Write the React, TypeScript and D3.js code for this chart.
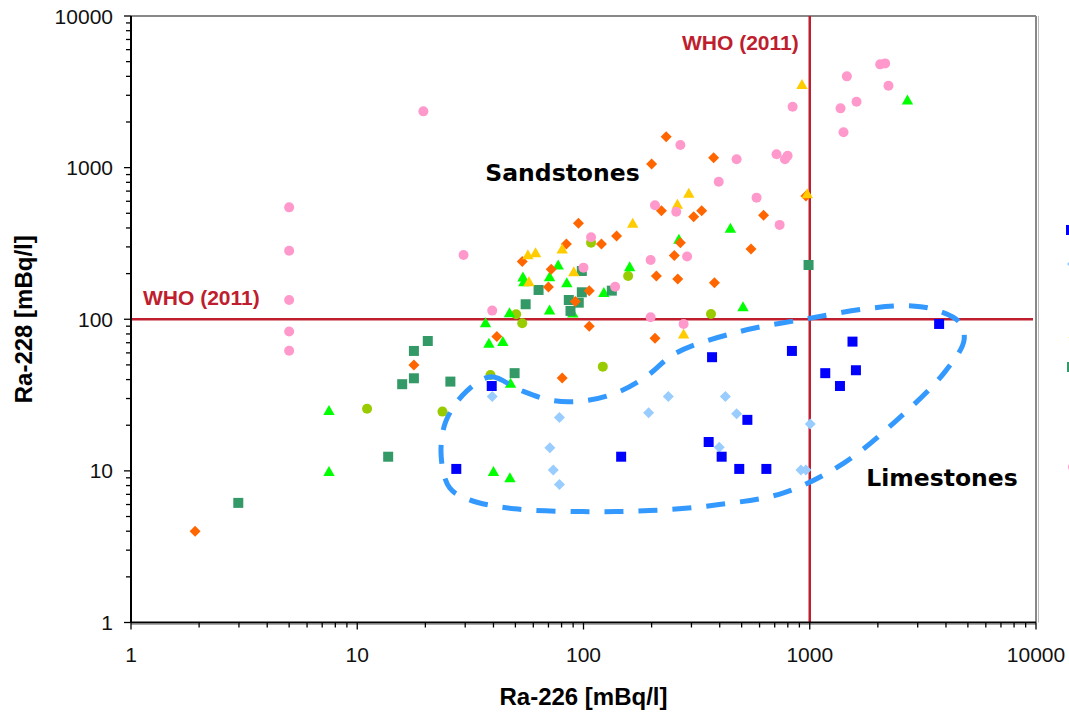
import React from 'react';
import * as d3 from 'd3';

const W = 1069;
const H = 712;
const margin = { top: 16, right: 33, bottom: 89.5, left: 131 };

// [Ra-226, Ra-228] in mBq/l, one array per marker series
const pinkCircles = [
  [5, 547], [5, 283], [5, 134], [5, 83], [5, 62], [19.6, 2350], [29.5, 265], [39.5, 114],
  [108, 347], [100, 219], [138, 164], [198, 246], [198, 103], [207, 564], [257, 512],
  [268, 1409], [287, 259], [277, 93], [396, 807], [475, 1135], [582, 634], [713, 1224],
  [777, 1135], [798, 1198], [736, 419], [840, 2520], [1459, 3999], [2048, 4798],
  [2154, 4870], [2228, 3467], [1610, 2718], [1368, 2460], [1410, 1709],
];
const orangeDiamonds = [
  [1.92, 4.0], [232, 1599], [200, 1057], [376, 1162], [221, 520], [307, 474], [333, 520],
  [95, 430], [140, 354], [84, 314], [120, 314], [53.6, 240], [72, 214], [70, 163],
  [106, 154], [92, 131], [106, 90], [41.4, 77], [17.8, 50], [80.5, 41], [252, 263],
  [210, 193], [261, 184], [207, 75], [268, 320], [379, 174], [625, 485], [550, 291],
  [962, 650],
];
const yellowTriangles = [
  [924, 3540], [975, 672], [292, 677], [260, 573], [165, 430], [56.8, 266], [61.4, 275],
  [80.5, 291], [57.4, 177], [90.6, 206], [277, 80],
];
const greenTriangles = [
  [7.5, 25], [7.5, 9.9], [40, 9.9], [47.3, 9.0], [47.6, 37.9], [36.9, 95], [38.2, 69.5],
  [44, 71.2], [47.1, 110.5], [54.5, 177], [54, 190], [70.8, 191], [77.3, 228], [84.4, 174],
  [70.8, 115], [89.7, 110], [123, 150], [160, 222], [264, 337], [446, 398], [507, 121],
  [2703, 2790],
];
const tealSquares = [
  [2.98, 6.15], [13.7, 12.4], [17.8, 61.8], [20.5, 71.9], [17.8, 40.8], [15.8, 37.3],
  [25.8, 38.8], [49.6, 44.1], [55.5, 125.6], [63.3, 156], [86.1, 134], [95.3, 128.6],
  [87.6, 113.5], [98.3, 150.6], [98.3, 208], [133.4, 154.4], [988, 228],
];
const oliveCircles = [
  [108, 320], [50.4, 108], [53.6, 94], [157.5, 193], [366, 108.4], [121.7, 48.7],
  [38.8, 42.9], [11.05, 25.7], [23.8, 24.6],
];
const blueSquares = [
  [39.3, 36.3], [27.4, 10.3], [146.7, 12.4], [370, 56.2], [357.5, 15.5], [408, 12.4],
  [488, 10.3], [643, 10.3], [530, 21.7], [834, 61.8], [1545, 71.2], [1171, 44.1],
  [1600, 46.1], [1360, 36.3], [3731, 93.1],
];
const lightBlueDiamonds = [
  [39.5, 30.9], [78.3, 22.5], [71, 14.2], [73.5, 10.15], [78.3, 8.12], [194, 24.2],
  [237, 30.9], [398, 14.3], [423.6, 30.9], [475, 23.8], [1005, 20.4], [914, 10.15],
  [962, 10.15],
];

// hand-drawn "Limestones" outline, in data units
const limestoneOutline = [
  [30.3, 33.3], [39.1, 41.8], [52.2, 34.2], [73, 29.1], [103, 29.1], [144, 33.3],
  [189, 41.8], [257, 60], [488, 82.8], [962, 100.5], [1888, 118.7], [2835, 122.4],
  [3607, 115.2], [4571, 96], [4810, 73], [3925, 44.3], [2434, 21.7], [1420, 11.3],
  [772, 7.19], [390, 5.97], [195.6, 5.47], [99, 5.39], [49.6, 5.62], [31.4, 6.44],
  [25.6, 7.73], [23.5, 12.4], [24.6, 21.1],
];

const tickLabels = ['1', '10', '100', '1000', '10000'];
const whoRa226 = 1000;
const whoRa228 = 100;

const series = [
  { data: oliveCircles, shape: 'circle', color: '#99CC00' },
  { data: greenTriangles, shape: 'triangle', color: '#00FF00' },
  { data: tealSquares, shape: 'square', color: '#339966' },
  { data: orangeDiamonds, shape: 'diamond', color: '#FF6600' },
  { data: yellowTriangles, shape: 'triangle', color: '#FFCC00' },
  { data: pinkCircles, shape: 'circle', color: '#FF99CC' },
  { data: lightBlueDiamonds, shape: 'diamond', color: '#99CCFF' },
  { data: blueSquares, shape: 'square', color: '#0000FF' },
];

const shapePath = (shape) => {
  if (shape === 'square') return 'M-5,-5H5V5H-5Z';
  if (shape === 'diamond') return 'M0,-5.5L5.5,0L0,5.5L-5.5,0Z';
  if (shape === 'triangle') return 'M0,-5.5L5.7,4.5H-5.7Z';
  return d3.symbol(d3.symbolCircle, Math.PI * 25)();
};

const arial = '"Liberation Sans", Arial, sans-serif';
const verdana = '"DejaVu Sans", Verdana, sans-serif';
const red = '#BE1E2D';

export default function App() {
  const x = d3.scaleLog().domain([1, 10000]).range([margin.left, W - margin.right]);
  const y = d3.scaleLog().domain([1, 10000]).range([H - margin.bottom, margin.top]);
  const x0 = margin.left, x1 = W - margin.right;
  const y0 = H - margin.bottom, y1 = margin.top;

  const ticks = x.ticks();
  const isMajor = (v) => Math.abs(Math.log10(v) - Math.round(Math.log10(v))) < 1e-9;

  const outline = d3.line()
    .x(d => x(d[0]))
    .y(d => y(d[1]))
    .curve(d3.curveCatmullRomClosed.alpha(0.5))(limestoneOutline);

  return (
    <svg width={W} height={H} style={{ position: 'absolute', left: 0, top: 0, background: '#fff' }}>
      {/* plot border */}
      <line x1={x0} x2={x1} y1={y1} y2={y1} stroke="#888" strokeWidth={2} />
      <line x1={x1} x2={x1} y1={y1} y2={y0} stroke="#888" strokeWidth={2} />
      <line x1={x1 + 2.5} x2={x1 + 2.5} y1={y1} y2={y0} stroke="#bbb" strokeWidth={1} />
      <line x1={x0} x2={x1} y1={y0 + 2} y2={y0 + 2} stroke="#aaa" strokeWidth={1} />

      {/* WHO lines */}
      <line x1={x0} x2={x1 - 3} y1={y(whoRa228)} y2={y(whoRa228)} stroke={red} strokeWidth={2.5} />
      <line x1={x(whoRa226)} x2={x(whoRa226)} y1={y1} y2={y0} stroke={red} strokeWidth={2.5} />

      {/* markers */}
      {series.map((s, i) => (
        <g key={i} fill={s.color}>
          {s.data.map((d, j) => (
            <path key={j} d={shapePath(s.shape)} transform={`translate(${x(d[0])},${y(d[1])})`} />
          ))}
        </g>
      ))}

      <path d={outline} fill="none" stroke="#3399FF" strokeWidth={5} strokeDasharray="19 15" />

      {/* axes */}
      <line x1={x0} x2={x0} y1={y1} y2={y0} stroke="#000" strokeWidth={2} />
      <line x1={x0} x2={x1} y1={y0} y2={y0} stroke="#000" strokeWidth={2} />
      {ticks.map((t, i) => (
        <g key={i}>
          <line x1={x0 - (isMajor(t) ? 7 : 5)} x2={x0} y1={y(t)} y2={y(t)} stroke="#000" strokeWidth={1.3} />
          <line x1={x(t)} x2={x(t)} y1={y0} y2={y0 + (isMajor(t) ? 7 : 5)} stroke="#000" strokeWidth={1.3} />
        </g>
      ))}
      {tickLabels.map((lab) => (
        <g key={lab} fontFamily={arial} fontSize={21} fill="#111">
          <text x={x0 - 18} y={y(+lab)} dy="0.36em" textAnchor="end">{lab}</text>
          <text x={x(+lab)} y={662} textAnchor="middle">{lab}</text>
        </g>
      ))}

      <text x={(x0 + x1) / 2} y={705} textAnchor="middle" fontFamily={arial} fontWeight="bold" fontSize={24}>Ra-226 [mBq/l]</text>
      <text transform={`translate(32,${(y0 + y1) / 2}) rotate(-90)`} textAnchor="middle" fontFamily={arial} fontWeight="bold" fontSize={24}>Ra-228 [mBq/l]</text>

      {/* annotations */}
      <text x={x0 + 12} y={y(whoRa228) - 14.5} fontFamily={arial} fontWeight="bold" fontSize={21} fill={red}>WHO (2011)</text>
      <text x={x(whoRa226) - 11} y={50} textAnchor="end" fontFamily={arial} fontWeight="bold" fontSize={21} fill={red}>WHO (2011)</text>
      <text x={562.5} y={181} textAnchor="middle" fontFamily={verdana} fontWeight="bold" fontSize={23.5}>Sandstones</text>
      <text x={942} y={485.7} textAnchor="middle" fontFamily={verdana} fontWeight="bold" fontSize={23.5}>Limestones</text>

      {/* legend, cut off at the right edge */}
      <path d={shapePath('square')} fill="#0000FF" transform="translate(1071,230)" />
      <path d={shapePath('diamond')} fill="#99CCFF" transform="translate(1072.5,264)" />
      <path d={shapePath('triangle')} fill="#FFCC00" transform="translate(1074,333)" />
      <path d={shapePath('square')} fill="#339966" transform="translate(1072,367)" />
      <path d={shapePath('circle')} fill="#FF99CC" transform="translate(1073,467)" />
    </svg>
  );
}
